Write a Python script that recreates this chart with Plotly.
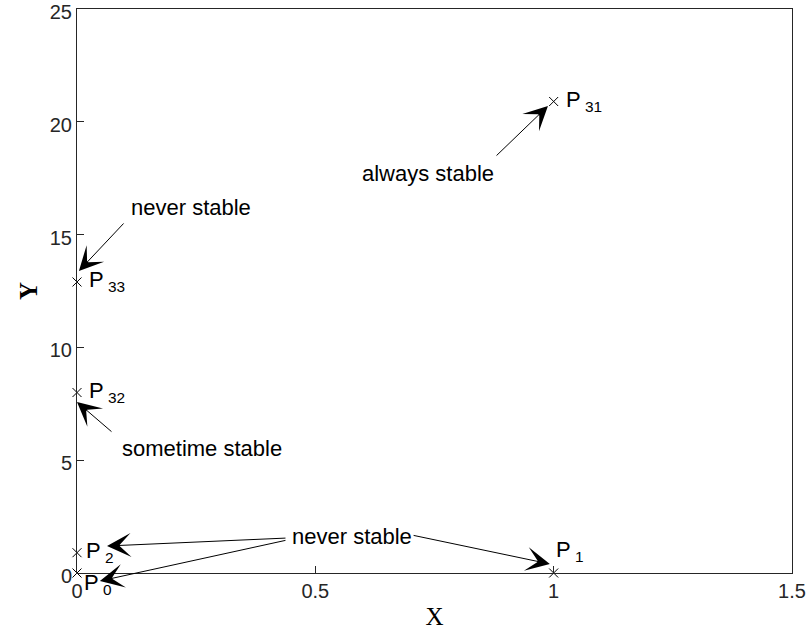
import plotly.graph_objects as go

# Data
pt_names = ["P<sub> 0</sub>", "P<sub> 1</sub>", "P<sub> 2</sub>", "P<sub> 31</sub>", "P<sub> 32</sub>", "P<sub> 33</sub>"]
pt_x = [0, 1, 0, 1, 0, 0]
pt_y = [0, 0, 0.9, 20.9, 8.0, 12.9]

note_texts = ["always stable", "never stable", "sometime stable", "never stable"]
note_x = [0.736, 0.239, 0.262, 0.577]
note_y = [17.73, 16.18, 5.54, 1.60]

# arrows: head (x,y) and tail (ax,ay)
arr_hx = [0.988, 0.004, 0.0, 0.063, 0.048, 0.992]
arr_hy = [20.70, 13.39, 7.58, 1.197, -0.355, 0.40]
arr_tx = [0.877, 0.1007, 0.0755, 0.4405, 0.4405, 0.703]
arr_ty = [18.44, 15.56, 6.21, 1.55, 1.46, 1.68]

x_ticks = [0, 0.5, 1, 1.5]
x_tick_text = ["0", "0.5", "1", "1.5"]
y_ticks = [0, 5, 10, 15, 20, 25]
y_tick_text = ["0", "5", "10", "15", "20", "25"]

AX = "#262626"
FONT = "Liberation Sans, Arial, sans-serif"
SERIF = "Liberation Serif, Times New Roman, serif"

fig = go.Figure()
fig.add_trace(go.Scatter(
    x=pt_x, y=pt_y, mode="markers",
    marker=dict(symbol="x-thin", size=9, line=dict(color="black", width=1)),
    showlegend=False, hoverinfo="skip", cliponaxis=False,
))

annotations = []
# point labels
label_shift = {0: (5, -11), 1: (0, 22), 2: (7, 1)}
for i, (n, x, y) in enumerate(zip(pt_names, pt_x, pt_y)):
    xs, ys = label_shift.get(i, (10, 1))
    annotations.append(dict(
        x=x, y=y, xref="x", yref="y", text=n, showarrow=False,
        xanchor="left", yanchor="middle", xshift=xs, yshift=ys,
        font=dict(family=FONT, size=22, color="black"),
    ))

for t, x, y in zip(note_texts, note_x, note_y):
    annotations.append(dict(
        x=x, y=y, xref="x", yref="y", text=t, showarrow=False,
        xanchor="center", yanchor="middle",
        font=dict(family=FONT, size=22, color="black"),
    ))

for hx, hy, tx, ty in zip(arr_hx, arr_hy, arr_tx, arr_ty):
    annotations.append(dict(
        x=hx, y=hy, xref="x", yref="y", ax=tx, ay=ty, axref="x", ayref="y",
        text="", showarrow=True, arrowhead=3, arrowsize=4, arrowwidth=1,
        arrowcolor="black", standoff=0, startstandoff=0,
    ))

fig.update_layout(
    width=811, height=631,
    margin=dict(l=77, r=19, t=9, b=58),
    paper_bgcolor="white", plot_bgcolor="white",
    font=dict(family=FONT, size=20, color=AX),
    annotations=annotations,
    xaxis=dict(
        range=[0, 1.5], tickvals=x_ticks, ticktext=x_tick_text,
        showgrid=False, zeroline=False, showline=True, linecolor=AX, linewidth=1,
        mirror=True, ticks="inside", ticklen=7, tickcolor=AX,
        ticklabeloverflow="allow", automargin=False,
        tickfont=dict(family=FONT, size=20, color=AX),
        title=dict(text="X", font=dict(family=SERIF, size=25, color="black"), standoff=6),
    ),
    yaxis=dict(
        range=[0, 25], tickvals=y_ticks, ticktext=y_tick_text,
        showgrid=False, zeroline=False, showline=True, linecolor=AX, linewidth=1,
        mirror=True, ticks="inside", ticklen=7, tickcolor=AX,
        ticklabeloverflow="allow", automargin=False, ticklabelshift=3,
        tickfont=dict(family=FONT, size=20, color=AX),
        title=dict(text="<b>Y</b>", font=dict(family=SERIF, size=25, color="black"), standoff=5),
    ),
)

fig.write_html("out.html")
